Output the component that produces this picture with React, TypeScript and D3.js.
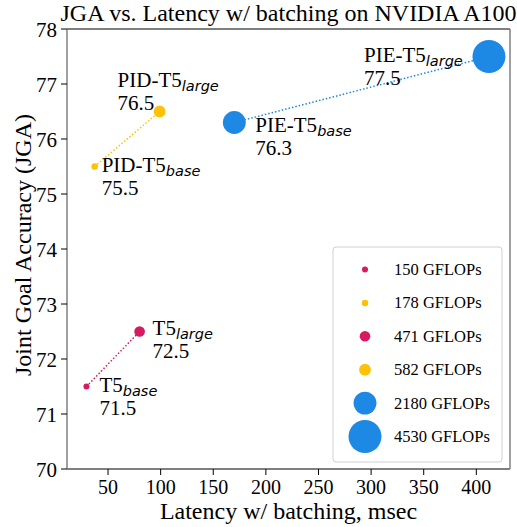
import React from "react";
import * as d3 from "d3";

const models = ["T5", "T5", "PID-T5", "PID-T5", "PIE-T5", "PIE-T5"];
const variants = ["base", "large", "base", "large", "base", "large"];
const latency = [29.5, 80, 37.3, 99, 170, 412];
const jga = [71.5, 72.5, 75.5, 76.5, 76.3, 77.5];
const gflops = [150, 471, 178, 582, 2180, 4530];
const groupColor = ["#D81B60", "#D81B60", "#FFC107", "#FFC107", "#1E88E5", "#1E88E5"];
const legendFlops = [150, 178, 471, 582, 2180, 4530];
const legendColors = ["#D81B60", "#FFC107", "#D81B60", "#FFC107", "#1E88E5", "#1E88E5"];
const xTicks = [50, 100, 150, 200, 250, 300, 350, 400];
const yTicks = [70, 71, 72, 73, 74, 75, 76, 77, 78];
// label offsets (px) relative to point
const labelDx = [13, 13, 7, -42, 21, -125];
const labelDy = [5, 3.5, 5, -25, 9, 5.5];

const W = 517, H = 527;
const M = { left: 67, right: 510, top: 29, bottom: 469 };
const serif = "'Liberation Serif', 'Times New Roman', serif";
const sans = "'DejaVu Sans', sans-serif";

export default function App() {
  const x = d3.scaleLinear().domain([11, 432]).range([M.left, M.right]);
  const y = d3.scaleLinear().domain([70, 78]).range([M.bottom, M.top]);
  const r = d3.scaleSqrt().domain([0, 4530]).range([0, 16.5]);
  const pairs = [[0, 1], [2, 3], [4, 5]];
  const legX = 333, legY = 247, legW = 169, legH = 215;
  return (
    <svg width={W} height={H} style={{ position: "absolute", left: 0, top: 0 }}>
      <rect x={0} y={0} width={W} height={H} fill="white" />
      <text x={(M.left + M.right) / 2} y={21} textAnchor="middle" fontFamily={serif} fontSize={24}>
        JGA vs. Latency w/ batching on NVIDIA A100
      </text>
      {/* connecting dotted lines */}
      {pairs.map(([a, b], i) => (
        <line key={"l" + i} x1={x(latency[a])} y1={y(jga[a])} x2={x(latency[b])} y2={y(jga[b])}
          stroke={groupColor[a]} strokeWidth={1.5} strokeDasharray="1.5,2" />
      ))}
      {latency.map((lv, i) => (
        <circle key={"c" + i} cx={x(lv)} cy={y(jga[i])} r={r(gflops[i])} fill={groupColor[i]} />
      ))}
      {latency.map((lv, i) => {
        const tx = x(lv) + labelDx[i];
        const ty = y(jga[i]) + labelDy[i];
        return (
          <g key={"t" + i}>
            <text x={tx} y={ty} fontFamily={serif} fontSize={21}>
              {models[i]}
              <tspan fontFamily={sans} fontStyle="italic" fontSize={14.5} dy={4}>{variants[i]}</tspan>
            </text>
            <text x={tx} y={ty + 23} fontFamily={serif} fontSize={21}>{jga[i].toFixed(1)}</text>
          </g>
        );
      })}
      {/* spines */}
      <line x1={M.left} x2={M.right} y1={M.top} y2={M.top} stroke="black" strokeWidth={1.2} />
      <line x1={M.left} x2={M.right} y1={M.bottom} y2={M.bottom} stroke="black" strokeWidth={1.2} />
      <line x1={M.left} x2={M.left} y1={M.top} y2={M.bottom} stroke="#808080" strokeWidth={1.5} />
      <line x1={M.right} x2={M.right} y1={M.top} y2={M.bottom} stroke="#808080" strokeWidth={1.5} />
      {/* ticks */}
      {xTicks.map((t) => (
        <g key={"xt" + t}>
          <line x1={x(t)} x2={x(t)} y1={M.bottom} y2={M.bottom + 6} stroke="black" strokeWidth={1} />
          <text x={x(t)} y={M.bottom + 25} textAnchor="middle" fontFamily={serif} fontSize={20}>{t}</text>
        </g>
      ))}
      {yTicks.map((t) => (
        <g key={"yt" + t}>
          <line x1={M.left - 6} x2={M.left} y1={y(t)} y2={y(t)} stroke="black" strokeWidth={1} />
          <text x={M.left - 10} y={y(t) + 7.5} textAnchor="end" fontFamily={serif} fontSize={21}>{t}</text>
        </g>
      ))}
      <text x={(M.left + M.right) / 2} y={519} textAnchor="middle" fontFamily={serif} fontSize={24}>
        Latency w/ batching, msec
      </text>
      <text transform={`translate(31,${(M.top + M.bottom) / 2 - 4}) rotate(-90)`} textAnchor="middle"
        fontFamily={serif} fontSize={24}>
        Joint Goal Accuracy (JGA)
      </text>
      {/* legend */}
      <rect x={legX} y={legY} width={legW} height={legH} rx={3} fill="white" fillOpacity={0.8}
        stroke="#d0d0d0" strokeWidth={1} />
      {legendFlops.map((g, i) => {
        const cy = 269.5 + i * 33.4;
        return (
          <g key={"lg" + i}>
            <circle cx={365} cy={cy} r={r(g)} fill={legendColors[i]} />
            <text x={394} y={cy + 5.5} fontFamily={serif} fontSize={16.5}>{g} GFLOPs</text>
          </g>
        );
      })}
    </svg>
  );
}
